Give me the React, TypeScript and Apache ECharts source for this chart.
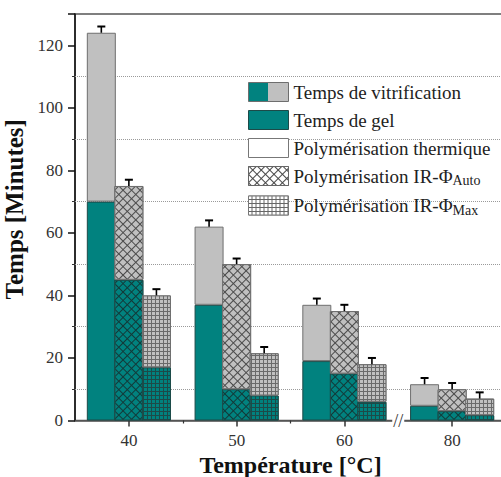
import React, { useEffect, useRef } from "react";
import * as echarts from "echarts";

// ---- data ----
const temperatures = ["40", "50", "60", "80"];
const thermVitri = [124, 62, 37, 11.6];
const thermGel = [70, 37, 19, 4.7];
const autoVitri = [75, 50, 35, 10];
const autoGel = [45, 10, 15, 3];
const maxVitri = [40, 21.5, 18, 7];
const maxGel = [17, 8, 6, 1.7];
const thermErr = [2, 2, 2, 2];
const autoErr = [2, 1.8, 2, 2];
const maxErr = [2, 2, 2, 2];
const dottedGridValues = [10, 30, 50, 70, 90, 110];
const halfSteps = ["", "", "", "", "", "", "//", "", ""];
const legendNames = [
  "Temps de vitrification",
  "Temps de gel",
  "Polymérisation thermique",
  "Polymérisation IR-ΦAuto",
  "Polymérisation IR-ΦMax",
];
const xName = "Température [°C]";
const yName = "Temps [Minutes]";

// ---- style ----
const SERIF = "'Liberation Serif', 'Times New Roman', serif";
const TEAL = "#01827f";
const GREY = "#c0c0c0";
const TEAL_BORDER = "#1d4a48";
const GREY_BORDER = "#6e6e6e";
const BAR_W = 29;
const BAR_GAP = -0.05;

const crossDecal = (fill: string) => ({
  symbol: "rect",
  symbolSize: 1,
  symbolKeepAspect: false,
  dashArrayX: [5, 1],
  dashArrayY: [5, 1],
  rotation: Math.PI / 4,
  color: fill,
});
const gridDecal = (fill: string) => ({
  symbol: "rect",
  symbolSize: 1,
  symbolKeepAspect: false,
  dashArrayX: [3, 1],
  dashArrayY: [3, 1],
  rotation: 0,
  color: fill,
});

function barSeries(
  name: string,
  stack: string,
  data: number[],
  fill: string,
  border: string,
  pattern: null | ((c: string) => any),
  lineColor: string
) {
  const itemStyle: any = {
    color: pattern ? lineColor : fill,
    borderColor: border,
    borderWidth: 1,
  };
  if (pattern) itemStyle.decal = pattern(fill);
  return {
    type: "bar",
    name,
    stack,
    data,
    barWidth: BAR_W,
    barGap: BAR_GAP * 100 + "%",
    itemStyle,
    z: 2,
    silent: true,
  };
}

export default function App() {
  const ref = useRef<HTMLDivElement>(null);

  useEffect(() => {
    if (!ref.current) return;
    const chart = echarts.init(ref.current, null, { renderer: "svg" });

    const diff = (a: number[], b: number[]) => a.map((v, i) => +(v - b[i]).toFixed(2));

    const errData: number[][] = [];
    [thermVitri, autoVitri, maxVitri].forEach((tops, k) => {
      const errs = [thermErr, autoErr, maxErr][k];
      tops.forEach((t, i) => errData.push([i, t, errs[i], k]));
    });

    const legendStyles: any[] = [
      {
        color: {
          type: "linear",
          x: 0,
          y: 0,
          x2: 1,
          y2: 0,
          colorStops: [
            { offset: 0, color: TEAL },
            { offset: 0.5, color: TEAL },
            { offset: 0.5, color: GREY },
            { offset: 1, color: GREY },
          ],
        },
        borderColor: GREY_BORDER,
        borderWidth: 1,
      },
      { color: TEAL, borderColor: TEAL_BORDER, borderWidth: 1 },
      { color: "#ffffff", borderColor: "#777", borderWidth: 1 },
      { color: "#444", borderColor: "#666", borderWidth: 1, decal: crossDecal("#ffffff") },
      { color: "#666", borderColor: "#777", borderWidth: 1, decal: gridDecal("#ffffff") },
    ];

    const option: any = {
      animation: false,
      backgroundColor: "#ffffff",
      grid: {
        left: 75,
        right: -5,
        top: 14,
        bottom: 56.5,
        show: true,
        borderColor: "#555",
        borderWidth: 1.5,
        backgroundColor: "transparent",
        containLabel: false,
        outerBoundsMode: "none",
      },
      legend: {
        orient: "vertical",
        left: 248,
        top: 82,
        padding: 0,
        itemWidth: 40,
        itemHeight: 19,
        itemGap: 8,
        itemTextGap: 7,
        icon: "rect",
        selectedMode: false,
        textStyle: {
          fontFamily: SERIF,
          fontSize: 19,
          color: "#222",
          lineHeight: 19,
          rich: {
            n: { fontFamily: SERIF, fontSize: 19, color: "#222", lineHeight: 19 },
            sub: { fontFamily: SERIF, fontSize: 14, color: "#222", padding: [9, 0, 0, 0] },
          },
        },
        formatter: (name: string) => {
          const m = name.match(/^(.*?)(Auto|Max)$/);
          return m ? "{n|" + m[1] + "}{sub|" + m[2] + "}" : "{n|" + name + "}";
        },
        data: legendNames.map((n, i) => ({ name: n, itemStyle: legendStyles[i] })),
      },
      xAxis: [
        {
          type: "category",
          data: temperatures,
          gridIndex: 0,
          position: "bottom",
          name: xName,
          nameLocation: "middle",
          nameGap: 27,
          nameTextStyle: {
            fontFamily: SERIF,
            fontSize: 24,
            lineHeight: 24,
            fontWeight: "bold",
            color: "#111",
          },
          axisLine: { show: true, lineStyle: { color: "#555", width: 1.5 } },
          axisTick: { show: true, alignWithLabel: true, length: 6, lineStyle: { color: "#333", width: 1.5 } },
          axisLabel: { fontFamily: SERIF, fontSize: 17, color: "#333", margin: 11, interval: 0 },
          splitLine: { show: false },
        },
        {
          type: "category",
          data: halfSteps,
          gridIndex: 0,
          position: "bottom",
          boundaryGap: false,
          axisLine: { show: false },
          axisTick: {
            show: true,
            interval: (i: number) => i === 2 || i === 4,
            length: 3,
            lineStyle: { color: "#333", width: 1.2 },
          },
          axisLabel: {
            show: true,
            interval: 0,
            margin: -9,
            formatter: (v: string) => (v ? "{b|" + v + "}" : ""),
            rich: {
              b: {
                fontFamily: SERIF,
                fontSize: 18,
                color: "#333",
                backgroundColor: "#ffffff",
                padding: [0, 1, 0, 1],
              },
            },
          },
          splitLine: { show: false },
        },
      ],
      yAxis: {
        type: "value",
        min: 0,
        max: 130,
        interval: 20,
        name: yName,
        nameLocation: "middle",
        nameGap: 42,
        nameTextStyle: {
          fontFamily: SERIF,
          fontSize: 25,
          fontWeight: "bold",
          color: "#111",
          padding: [0, 0, 0, 16],
        },
        axisLine: { show: true, lineStyle: { color: "#111", width: 1.5 } },
        axisTick: { show: true, length: 7, lineStyle: { color: "#111", width: 1.5 } },
        minorTick: { show: true, splitNumber: 2, length: 3, lineStyle: { color: "#333", width: 1 } },
        axisLabel: {
          fontFamily: SERIF,
          fontSize: 17,
          color: "#333",
          margin: 12,
          formatter: (v: number) => (v % 20 === 0 ? String(v) : ""),
        },
        splitLine: { show: false },
        minorSplitLine: { show: false },
      },
      series: [
        barSeries("th-gel", "th", thermGel, TEAL, TEAL_BORDER, null, ""),
        barSeries("th-vit", "th", diff(thermVitri, thermGel), GREY, GREY_BORDER, null, ""),
        barSeries("au-gel", "au", autoGel, TEAL, TEAL_BORDER, crossDecal, "#123a39"),
        barSeries("au-vit", "au", diff(autoVitri, autoGel), GREY, GREY_BORDER, crossDecal, "#4a4a4a"),
        barSeries("mx-gel", "mx", maxGel, TEAL, TEAL_BORDER, gridDecal, "#1d4a48"),
        barSeries("mx-vit", "mx", diff(maxVitri, maxGel), GREY, GREY_BORDER, gridDecal, "#6a6a6a"),
        {
          type: "custom",
          name: "err",
          z: 3,
          silent: true,
          data: errData,
          encode: { x: 0, y: 1 },
          renderItem: (_params: any, api: any) => {
            const cat = api.value(0);
            const top = api.value(1);
            const err = api.value(2);
            const k = api.value(3);
            const base = api.coord([cat, top]);
            const hi = api.coord([cat, top + err]);
            const x = base[0] + (k - 1) * BAR_W * (1 + BAR_GAP);
            return {
              type: "group",
              children: [
                {
                  type: "line",
                  shape: { x1: x, y1: base[1], x2: x, y2: hi[1] },
                  style: { stroke: "#000", lineWidth: 1.6 },
                },
                {
                  type: "line",
                  shape: { x1: x - 4, y1: hi[1], x2: x + 4, y2: hi[1] },
                  style: { stroke: "#000", lineWidth: 2 },
                },
              ],
            };
          },
        },
        {
          type: "custom",
          name: "gridlines",
          data: [],
          renderItem: () => null,
          silent: true,
          markLine: {
            silent: true,
            symbol: "none",
            z: 1,
            label: { show: false },
            emphasis: { disabled: true },
            lineStyle: { type: "dotted", color: "#9a9a9a", width: 1 },
            data: dottedGridValues.map((v) => ({ yAxis: v })),
          },
        },
        ...legendNames.map((n) => ({
          type: "custom",
          name: n,
          data: [],
          renderItem: () => null,
        })),
      ],
    };

    chart.setOption(option);
    return () => chart.dispose();
  }, []);

  return (
    <div
      ref={ref}
      style={{ position: "absolute", left: 0, top: 0, width: 501, height: 477, background: "#fff" }}
    />
  );
}
